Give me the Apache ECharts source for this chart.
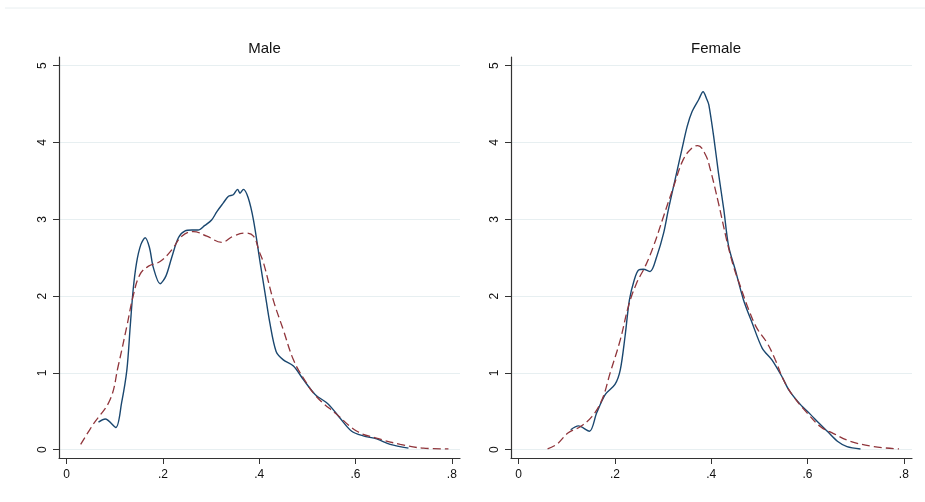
<!DOCTYPE html>
<html>
<head>
<meta charset="utf-8">
<script src="https://cdn.jsdelivr.net/npm/echarts@6/dist/echarts.min.js"></script>
<style>
  html, body { margin: 0; padding: 0; background: #fff; }
  #chart { width: 925px; height: 502px; }
</style>
</head>
<body>
<div id="chart"></div>
<script>
// tick values
let xTicks = [0, 0.2, 0.4, 0.6, 0.8]
let yTicks = [0, 1, 2, 3, 4, 5]
let panelTitles = ['Male', 'Female']

// Male, solid curve
let maleSolidX = [0.066, 0.080, 0.102, 0.114, 0.125, 0.132, 0.138, 0.145, 0.154, 0.163, 0.172, 0.180, 0.194, 0.206, 0.218, 0.232, 0.246, 0.260, 0.273, 0.287, 0.301, 0.312, 0.325, 0.336, 0.346, 0.355, 0.360, 0.367, 0.377, 0.388, 0.402, 0.412, 0.422, 0.435, 0.450, 0.471, 0.492, 0.516, 0.544, 0.568, 0.592, 0.616, 0.644, 0.672, 0.710]
let maleSolidY = [0.36, 0.40, 0.29, 0.61, 1.04, 1.61, 2.08, 2.43, 2.67, 2.76, 2.63, 2.37, 2.16, 2.26, 2.50, 2.76, 2.85, 2.86, 2.86, 2.92, 2.99, 3.10, 3.21, 3.30, 3.32, 3.39, 3.34, 3.39, 3.28, 2.99, 2.43, 2.04, 1.65, 1.28, 1.17, 1.09, 0.91, 0.72, 0.59, 0.41, 0.24, 0.18, 0.14, 0.07, 0.02]

// Male, dashed curve
let maleDashX = [0.029, 0.055, 0.090, 0.107, 0.125, 0.138, 0.152, 0.170, 0.194, 0.218, 0.239, 0.263, 0.291, 0.322, 0.346, 0.371, 0.388, 0.400, 0.409, 0.429, 0.450, 0.471, 0.492, 0.519, 0.561, 0.603, 0.644, 0.693, 0.741, 0.793]
let maleDashY = [0.07, 0.33, 0.65, 1.09, 1.61, 2.00, 2.28, 2.39, 2.45, 2.60, 2.78, 2.84, 2.78, 2.70, 2.78, 2.82, 2.78, 2.58, 2.43, 1.95, 1.56, 1.17, 0.93, 0.69, 0.46, 0.24, 0.15, 0.07, 0.02, 0.01]

// Female, solid curve
let femaleSolidX = [0.108, 0.124, 0.147, 0.162, 0.180, 0.200, 0.211, 0.221, 0.230, 0.240, 0.249, 0.259, 0.273, 0.287, 0.301, 0.311, 0.325, 0.339, 0.350, 0.360, 0.374, 0.383, 0.391, 0.395, 0.405, 0.415, 0.426, 0.436, 0.450, 0.467, 0.485, 0.506, 0.526, 0.547, 0.561, 0.585, 0.606, 0.623, 0.641, 0.662, 0.682, 0.710]
let femaleSolidY = [0.26, 0.31, 0.24, 0.48, 0.72, 0.85, 1.04, 1.48, 1.95, 2.21, 2.34, 2.35, 2.32, 2.52, 2.82, 3.13, 3.52, 3.91, 4.21, 4.40, 4.56, 4.66, 4.56, 4.49, 4.08, 3.60, 3.13, 2.65, 2.34, 1.95, 1.65, 1.32, 1.17, 0.95, 0.78, 0.59, 0.46, 0.35, 0.24, 0.11, 0.04, 0.01]

// Female, dashed curve
let femaleDashX = [0.060, 0.079, 0.103, 0.128, 0.152, 0.173, 0.190, 0.211, 0.228, 0.245, 0.263, 0.280, 0.301, 0.322, 0.342, 0.360, 0.372, 0.388, 0.398, 0.415, 0.432, 0.446, 0.458, 0.478, 0.495, 0.516, 0.533, 0.550, 0.571, 0.599, 0.627, 0.654, 0.689, 0.738, 0.790]
let femaleDashY = [0.01, 0.07, 0.22, 0.30, 0.43, 0.65, 1.00, 1.43, 1.87, 2.17, 2.39, 2.65, 3.04, 3.43, 3.78, 3.93, 3.96, 3.84, 3.65, 3.21, 2.73, 2.39, 2.17, 1.82, 1.58, 1.39, 1.17, 0.91, 0.69, 0.48, 0.30, 0.21, 0.11, 0.04, 0.01]

let pair = (xs, ys) => xs.map((x, i) => [x, ys[i]])

let fmtX = v => {
  if (Math.abs(v) < 1e-9) return '0'
  return String(Math.round(v * 10) / 10).replace(/^0/, '')
}

let chartInstance = echarts.init(document.getElementById('chart'), null, { renderer: 'canvas' })

let grids = [
  { left: 59, right: 465, top: 57, bottom: 44 },
  { left: 511, right: 13, top: 57, bottom: 44 }
]

let makeX = (i) => ({
  type: 'value',
  gridIndex: i,
  min: -0.016,
  max: 0.817,
  axisLine: { show: true, onZero: false, lineStyle: { color: '#333', width: 1.2 } },
  axisTick: { show: true, length: 6, customValues: xTicks, lineStyle: { color: '#333' } },
  axisLabel: {
    customValues: xTicks,
    formatter: fmtX,
    color: '#111',
    fontSize: 12,
    fontFamily: 'Liberation Sans, Arial',
    margin: 11
  },
  splitLine: { show: false }
})

let makeY = (i) => ({
  type: 'value',
  gridIndex: i,
  min: -0.108,
  max: 5.113,
  axisLine: { show: true, onZero: false, lineStyle: { color: '#333', width: 1.2 } },
  axisTick: { show: true, length: 6, customValues: yTicks, lineStyle: { color: '#333' } },
  axisLabel: {
    customValues: yTicks,
    rotate: 90,
    color: '#111',
    fontSize: 12,
    fontFamily: 'Liberation Sans, Arial',
    margin: 10
  },
  splitLine: { show: true, lineStyle: { color: '#e7eff1', width: 1 } }
})

let solidStyle = { color: '#1a476f', width: 1.4 }
let dashStyle = { color: '#90353b', width: 1.3, type: [8, 4] }

const initOption = {
  animation: false,
  backgroundColor: '#fff',
  title: panelTitles.map((t, i) => ({
    text: t,
    left: i === 0 ? 259.5 : 711,
    top: 36,
    textAlign: 'center',
    textStyle: {
      fontWeight: 'normal',
      fontSize: 15,
      color: '#111',
      fontFamily: 'Liberation Sans, Arial'
    }
  })),
  graphic: [
    {
      type: 'line',
      shape: { x1: 5, y1: 8, x2: 925, y2: 8 },
      style: { stroke: '#e8eef0', lineWidth: 1 }
    }
  ],
  grid: grids,
  xAxis: [makeX(0), makeX(1)],
  yAxis: [makeY(0), makeY(1)],
  series: [
    {
      name: 'Male solid',
      type: 'line',
      xAxisIndex: 0,
      yAxisIndex: 0,
      symbol: 'none',
      smooth: 0.3,
      lineStyle: solidStyle,
      data: pair(maleSolidX, maleSolidY)
    },
    {
      name: 'Male dashed',
      type: 'line',
      xAxisIndex: 0,
      yAxisIndex: 0,
      symbol: 'none',
      smooth: 0.4,
      lineStyle: dashStyle,
      data: pair(maleDashX, maleDashY)
    },
    {
      name: 'Female solid',
      type: 'line',
      xAxisIndex: 1,
      yAxisIndex: 1,
      symbol: 'none',
      smooth: 0.3,
      lineStyle: solidStyle,
      data: pair(femaleSolidX, femaleSolidY)
    },
    {
      name: 'Female dashed',
      type: 'line',
      xAxisIndex: 1,
      yAxisIndex: 1,
      symbol: 'none',
      smooth: 0.4,
      lineStyle: dashStyle,
      data: pair(femaleDashX, femaleDashY)
    }
  ]
}

chartInstance.setOption(initOption)
</script>
</body>
</html>
